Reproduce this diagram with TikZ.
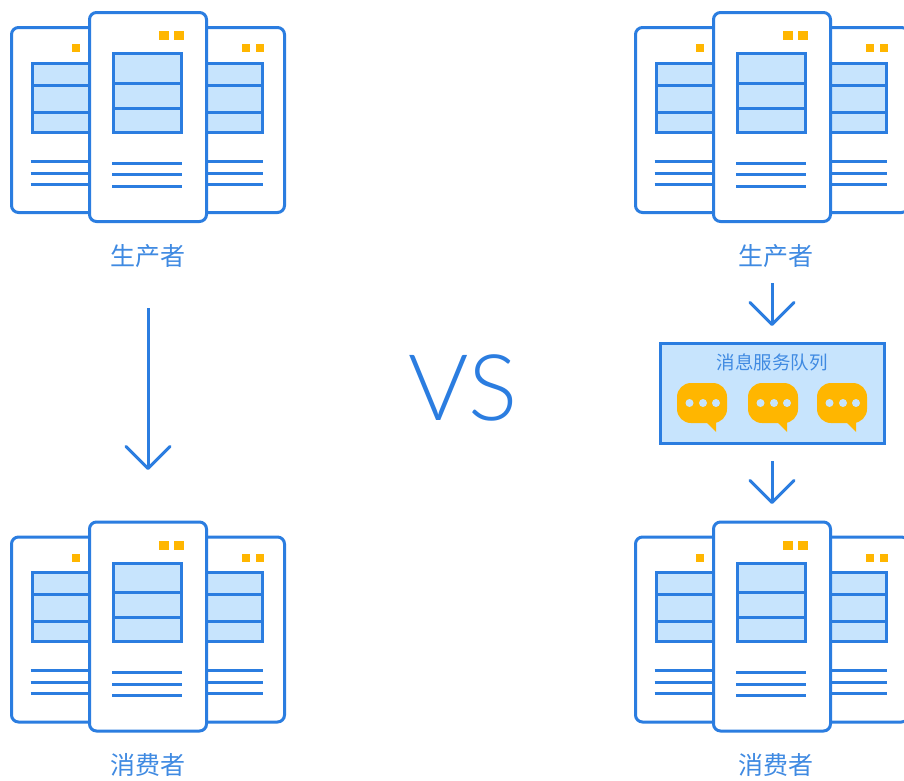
\documentclass[tikz,border=0pt]{standalone}
\usepackage{fontspec}
\newfontfamily\cjk{Noto Sans CJK SC}
\newfontfamily\vsfont[UprightFont=* Light]{Lato}
\usetikzlibrary{arrows.meta}
\definecolor{bl}{HTML}{2B7DE0}
\definecolor{txtbl}{HTML}{3F8AE2}
\definecolor{lt}{HTML}{C7E4FD}
\definecolor{yl}{HTML}{FFB600}
\tikzset{
  x=1pt,y=-1pt,
  card/.style={draw=bl,line width=3pt,fill=white,rounded corners=7pt},
  tbl/.style={draw=bl,line width=3pt,fill=lt},
  rulerline/.style={draw=bl,line width=3pt},
  sq/.style={fill=yl},
  captxt/.style={font=\cjk\fontsize{25}{25}\selectfont,text=txtbl,inner sep=0pt},
  flow/.style={draw=bl,line width=3pt,-{Straight Barb[length=22pt,width=44pt,round]}},
  bubble/.pic={
    \fill[yl,rounded corners=14pt] (677,383) rectangle (727,423);
    \fill[yl] (705,421) -- (716,432) -- (716,421) -- cycle;
    \foreach \dx in {689.5,703,716}{\fill[lt] (\dx,403) circle (4);}
  },
  server/.pic={
    \path[card] (11.5,27.5) rectangle (120,212.5);
    \path[card] (180,27.5) rectangle (284.5,212.5);
    \fill[sq] (72,44) rectangle (80,52);
    \fill[sq] (242,44) rectangle (250,52);
    \fill[sq] (256,44) rectangle (264,52);
    \path[tbl] (32.5,63) rectangle (120,132);
    \path[tbl] (150,63) rectangle (262,132);
    \foreach \yy in {85,112}{\path[rulerline] (31,\yy) -- (263,\yy);}
    \foreach \yy in {161,173,184}{\path[rulerline] (30.5,\yy) -- (263,\yy);}
    \path[card] (89.5,12.5) rectangle (206.5,221.5);
    \fill[sq] (159,31) rectangle (169,40);
    \fill[sq] (174,31) rectangle (184,40);
    \path[tbl] (113.5,53.5) rectangle (181,132);
    \foreach \yy in {83,108}{\path[rulerline] (113,\yy) -- (182,\yy);}
    \foreach \yy in {163,174.5,186}{\path[rulerline] (112,\yy) -- (182,\yy);}
  }
}
\begin{document}
\begin{tikzpicture}
\useasboundingbox (0,0) rectangle (904,780);
\clip (0,0) rectangle (904,780);
\fill[white] (0,0) rectangle (904,780);
\pic at (0,0) {server};
\pic at (0,509.5) {server};
\pic at (624,0) {server};
\pic at (624,509.5) {server};
\node[captxt] (prodL) at (148,256) {生产者};
\node[captxt] (consL) at (148,765) {消费者};
\node[captxt] (prodR) at (776,256) {生产者};
\node[captxt] (consR) at (776,765) {消费者};
\node[text=bl,inner sep=0pt,font=\vsfont\fontsize{92}{92}\selectfont] (vs) at (463,388) {VS};
\node[draw=bl,line width=3pt,fill=lt,minimum width=224pt,minimum height=100pt,inner sep=0pt] (queue) at (772.25,393.5) {};
\node[inner sep=0pt,text=txtbl,font=\cjk\fontsize{18.5}{18.5}\selectfont] (qt) at (772,362) {消息服务队列};
\pic at (0,0) {bubble};
\pic at (71,0) {bubble};
\pic at (140,0) {bubble};
\coordinate (a1) at (148,308);
\coordinate (a2) at (148,470);
\coordinate (b1) at (772,283);
\coordinate (b2) at (772,326);
\coordinate (c1) at (772,461);
\coordinate (c2) at (772,504);
\draw[flow] (a1) -- (a2);
\draw[flow] (b1) -- (b2);
\draw[flow] (c1) -- (c2);
\end{tikzpicture}
\end{document}
